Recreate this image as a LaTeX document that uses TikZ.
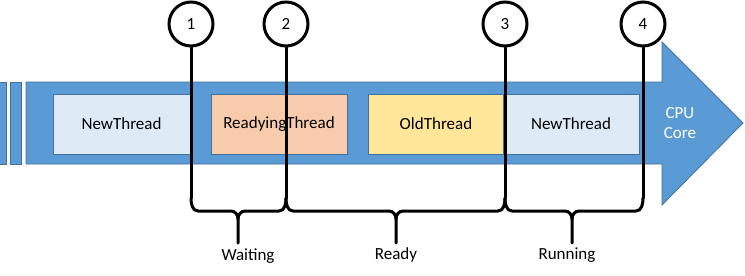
\documentclass[tikz,border=0pt]{standalone}
\usepackage{fontspec}
\setmainfont{Carlito}
\definecolor{bandblue}{HTML}{5B9BD5}
\definecolor{bandedge}{HTML}{41719C}
\definecolor{lightblue}{HTML}{DEEBF7}
\definecolor{peach}{HTML}{F8CBAD}
\definecolor{butter}{HTML}{FFE699}
\begin{document}
\begin{tikzpicture}[x=1pt,y=-1pt,
  band/.style={fill=bandblue,draw=bandedge,line width=0.8pt},
  thread/.style={draw=bandedge,line width=0.8pt,inner sep=0pt,font=\fontsize{17}{20}\selectfont},
  marker/.style={circle,draw=black,line width=3pt,fill=white,minimum size=44pt,inner sep=0pt,font=\fontsize{17}{20}\selectfont},
  stem/.style={line width=3pt,line cap=round},
  bracepath/.style={line width=3pt,line join=round,line cap=round},
  lbl/.style={font=\fontsize{17}{20}\selectfont,inner sep=0pt}]
\useasboundingbox (0,0) rectangle (745,276);
% stripes
\fill[band] (-2,82) rectangle (6,164);
\fill[band] (10,82) rectangle (21,164);
% band with arrow
\draw[band] (26,82) -- (662,82) -- (662,42) -- (743,123) -- (662,205) -- (662,164) -- (26,164) -- cycle;
% thread boxes
\node[thread,fill=lightblue,minimum width=137pt,minimum height=60pt] (t1) at (121.5,124) {NewThread};
\node[thread,fill=peach,minimum width=136pt,minimum height=60pt] (t2) at (279,124) {ReadyingThread};
\node[thread,fill=butter,minimum width=136pt,minimum height=60pt] (t3) at (436,124) {OldThread};
\node[thread,fill=lightblue,minimum width=136pt,minimum height=60pt] (t4) at (571,124) {NewThread};
\node[text=white,align=center,inner sep=0pt,font=\fontsize{17}{20}\selectfont] (cpu) at (680,123) {CPU\\Core};
% markers
\node[marker] (m1) at (191,24) {1};
\node[marker] (m2) at (286,24) {2};
\node[marker] (m3) at (505,24) {3};
\node[marker] (m4) at (643,24) {4};
\coordinate (e1) at (191,198);
\coordinate (e2) at (286,198);
\coordinate (e3) at (505,198);
\coordinate (e4) at (643,198);
\foreach \i in {1,2,3,4} {\draw[stem] (m\i.south) -- (e\i);}
% braces
\coordinate (b1) at (238,243);
\coordinate (b2) at (396,243);
\coordinate (b3) at (572,243);
\draw[bracepath] (e1) to[out=-90,in=180] ([shift={(7,13)}]e1) -- ([shift={(-7,-32)}]b1) to[out=0,in=90] ([shift={(0,-24)}]b1) -- (b1);
\draw[bracepath] ([shift={(0,-24)}]b1) to[out=90,in=180] ([shift={(7,-32)}]b1) -- ([shift={(-7,13)}]e2) to[out=0,in=-90] (e2);
\draw[bracepath] (e2) to[out=-90,in=180] ([shift={(7,13)}]e2) -- ([shift={(-7,-32)}]b2) to[out=0,in=90] ([shift={(0,-24)}]b2) -- (b2);
\draw[bracepath] ([shift={(0,-24)}]b2) to[out=90,in=180] ([shift={(7,-32)}]b2) -- ([shift={(-7,13)}]e3) to[out=0,in=-90] (e3);
\draw[bracepath] (e3) to[out=-90,in=180] ([shift={(7,13)}]e3) -- ([shift={(-7,-32)}]b3) to[out=0,in=90] ([shift={(0,-24)}]b3) -- (b3);
\draw[bracepath] ([shift={(0,-24)}]b3) to[out=90,in=180] ([shift={(7,-32)}]b3) -- ([shift={(-7,13)}]e4) to[out=0,in=-90] (e4);
% labels
\node[lbl] (w) at (248,256) {Waiting};
\node[lbl] (r) at (396,255) {Ready};
\node[lbl] (ru) at (567,255) {Running};
\end{tikzpicture}
\end{document}
